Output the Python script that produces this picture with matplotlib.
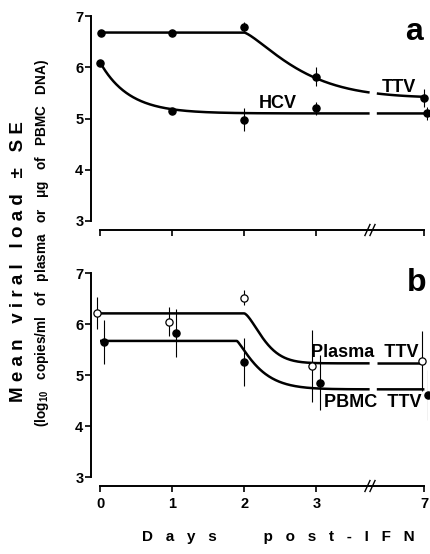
import numpy as np
import matplotlib
matplotlib.use("Agg")
import matplotlib.pyplot as plt
import matplotlib.transforms as mtransforms

plt.rcParams['font.family'] = ['Liberation Sans', 'DejaVu Sans']
plt.rcParams['font.weight'] = 'bold'
plt.rcParams['mathtext.fontset'] = 'custom'
plt.rcParams['mathtext.rm'] = 'Liberation Sans:bold'
plt.rcParams['mathtext.it'] = 'Liberation Sans:bold'
plt.rcParams['mathtext.bf'] = 'Liberation Sans:bold'

# ---- data ----
day_labels = ['0', '1', '2', '3', '7']
day_pos = [0, 1, 2, 3, 4.5]          # broken axis: day 7 drawn after the break

# panel a
ttv_a = [6.68, 6.68, 6.79, 5.82, 5.40]
ttv_a_err = [0.03, 0.03, 0.10, 0.18, 0.18]
hcv_a = [6.09, 5.15, 4.98, 5.20, 5.10]
hcv_a_err = [0.05, 0.04, 0.23, 0.13, 0.12]

# panel b
plasma_b = [6.22, 6.05, 6.52, 5.18, 5.28]
plasma_b_err = [0.31, 0.28, 0.15, 0.70, 0.59]
pbmc_b = [5.65, 5.82, 5.26, 4.85, 4.60]
pbmc_b_err = [0.44, 0.47, 0.47, 0.54, 0.49]

# fitted model curves: (start level, end level, drop start, rate, power)
ttv_a_fit = (6.68, 5.40, 2.0, 1.2, 1.3)
hcv_a_fit = (6.10, 5.10, 0.0, 2.5, 1.0)
plasma_b_fit = (6.21, 5.23, 2.0, 5.2, 1.5)
pbmc_b_fit = (5.67, 4.72, 1.9, 3.5, 1.2)

BREAK = 3.75
GAP = (3.74, 3.84)


def model(t, hi, lo, t0, k, p):
    s = np.clip(t - t0, 0, None)
    return lo + (hi - lo) * np.exp(-k * s ** p)


def draw_fit(ax, params):
    t1 = np.linspace(0, GAP[0], 400)
    ax.plot(t1, model(t1, *params), color='black', lw=1.8, zorder=2,
            solid_capstyle='butt')
    t2 = np.linspace(GAP[1], 4.5, 20)
    ax.plot(t2, model(t2, *params), color='black', lw=1.8, zorder=2,
            solid_capstyle='butt')


def draw_pts(ax, x, y, e, filled=True):
    ax.errorbar(x, y, yerr=e, fmt='none', ecolor='black', elinewidth=0.8,
                capsize=0, zorder=3)
    ax.plot(x, y, 'o', ms=5.2, mfc='black' if filled else 'white',
            mec='black', mew=0.9, zorder=4, clip_on=False)


def style_axes(ax, show_labels):
    for s in ['top', 'right']:
        ax.spines[s].set_visible(False)
    ax.spines['left'].set_bounds(3, 7)
    ax.spines['bottom'].set_bounds(0, 4.5)
    ax.spines['left'].set_linewidth(1.4)
    ax.spines['bottom'].set_linewidth(1.4)
    ax.set_xlim(-0.125, 4.55)
    ax.set_ylim(2.824, 7.12)
    ax.set_yticks([3, 4, 5, 6, 7])
    ax.set_xticks(day_pos)
    ax.set_xticklabels(day_labels if show_labels else [])
    ax.tick_params(axis='y', length=4, width=1.2, pad=1.5, labelsize=10.5)
    ax.tick_params(axis='x', length=4, width=1.2, pad=4, labelsize=10.5)
    for lab in ax.get_xticklabels() + ax.get_yticklabels():
        lab.set_fontweight('bold')
    trans = mtransforms.blended_transform_factory(ax.transData, ax.transAxes)
    for xb in (BREAK - 0.04, BREAK + 0.03):
        ax.plot([xb - 0.035, xb + 0.035], [-0.025, 0.025], color='black',
                lw=1.0, transform=trans, clip_on=False)


fig = plt.figure(figsize=(4.3, 5.54), dpi=100)
W, H = 430, 554
left = 91 / W
width = (428 - 91) / W
ax_a = fig.add_axes([left, 1 - 230 / H, width, (230 - 10) / H])
ax_b = fig.add_axes([left, 1 - 486 / H, width, (486 - 267) / H])

# panel a
draw_fit(ax_a, ttv_a_fit)
draw_fit(ax_a, hcv_a_fit)
draw_pts(ax_a, [0.01, 1, 2, 3, 4.5], ttv_a, ttv_a_err)
draw_pts(ax_a, [0.0, 1, 2, 3, 4.54], hcv_a, hcv_a_err)
style_axes(ax_a, False)
ax_a.text(2.46, 5.30, 'HCV', fontsize=13, fontweight='bold', ha='center', va='center')
ax_a.text(4.15, 5.61, 'TTV', fontsize=13, fontweight='bold', ha='center', va='center')
ax_a.text(4.36, 6.70, 'a', fontsize=23, fontweight='bold', ha='center', va='center')

# panel b
draw_fit(ax_b, plasma_b_fit)
draw_fit(ax_b, pbmc_b_fit)
draw_pts(ax_b, [-0.04, 0.96, 2.0, 2.94, 4.46], plasma_b, plasma_b_err, filled=False)
draw_pts(ax_b, [0.055, 1.055, 2.0, 3.05, 4.55], pbmc_b, pbmc_b_err, filled=True)
style_axes(ax_b, True)
ax_b.text(3.67, 5.45, 'Plasma  TTV', fontsize=13, fontweight='bold', ha='center', va='center')
ax_b.text(3.78, 4.47, 'PBMC  TTV', fontsize=13, fontweight='bold', ha='center', va='center')
ax_b.text(4.39, 6.80, 'b', fontsize=23, fontweight='bold', ha='center', va='center')

# axis titles
fig.text(19 / W, 1 - 262 / H, 'M e a n   v i r a l   l o a d   ±   S E',
         rotation=90, fontsize=13.5, fontweight='bold', ha='center', va='center')
fig.text(42 / W, 1 - 243 / H,
         '(log$_{10}$   copies/ml   of   plasma   or   μg   of   PBMC   DNA)',
         rotation=90, fontsize=9.8, fontweight='bold', ha='center', va='center')
fig.text(278 / W, 1 - 537 / H,
         'D   a   y   s           p   o   s   t   -   I   F   N',
         fontsize=11, fontweight='bold', ha='center', va='center')

fig.savefig('out.png', dpi=100)
